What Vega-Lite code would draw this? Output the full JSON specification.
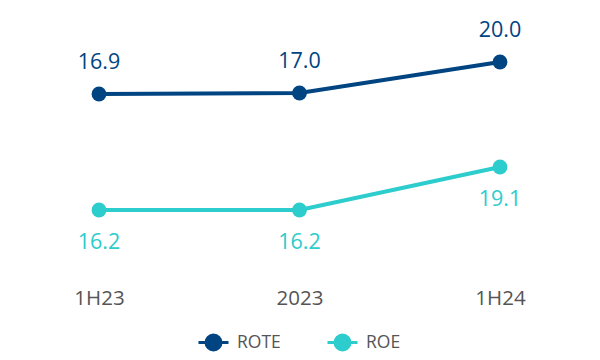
{
  "$schema": "https://vega.github.io/schema/vega-lite/v6.json",
  "width": 600,
  "height": 270,
  "autosize": {"type": "none"},
  "padding": {"left": 0, "top": 0, "right": 0, "bottom": 90},
  "background": "white",
  "config": {"view": {"stroke": null}, "font": "Open Sans"},
  "data": {
    "values": [
      {"period": "1H23", "series": "ROTE", "value": 16.9},
      {"period": "2023", "series": "ROTE", "value": 17.0},
      {"period": "1H24", "series": "ROTE", "value": 20.0},
      {"period": "1H23", "series": "ROE", "value": 16.2},
      {"period": "2023", "series": "ROE", "value": 16.2},
      {"period": "1H24", "series": "ROE", "value": 19.1}
    ]
  },
  "encoding": {
    "x": {
      "field": "period",
      "type": "ordinal",
      "sort": ["1H23", "2023", "1H24"],
      "scale": {"type": "point", "range": [99, 500], "padding": 0},
      "axis": {
        "title": null,
        "domain": false,
        "ticks": false,
        "labelAngle": 0,
        "labelFont": "Open Sans",
        "labelFontWeight": 500,
        "labelFontSize": 20.5,
        "labelColor": "#555555",
        "labelPadding": 18
      }
    },
    "color": {
      "field": "series",
      "type": "nominal",
      "scale": {"domain": ["ROTE", "ROE"], "range": ["#004481", "#2DCCCD"]},
      "legend": {
        "title": null,
        "orient": "none",
        "direction": "horizontal",
        "legendX": 197,
        "legendY": 326,
        "padding": 0,
        "symbolType": "M-1,0L1,0M-0.5,0A0.5,0.5,0,1,0,0.5,0A0.5,0.5,0,1,0,-0.5,0Z",
        "symbolSize": 900,
        "symbolStrokeWidth": 3,
        "labelFont": "Open Sans",
        "labelFontWeight": 500,
        "labelFontSize": 17.5,
        "labelColor": "#555555",
        "labelOffset": 7,
        "columnPadding": 40,
        "encode": {
          "symbols": {
            "update": {
              "fill": {"scale": "color", "field": "value"},
              "stroke": {"scale": "color", "field": "value"},
              "opacity": {"value": 1}
            }
          }
        }
      }
    }
  },
  "layer": [
    {
      "transform": [{"filter": "datum.series === 'ROTE'"}],
      "encoding": {
        "y": {
          "field": "value",
          "type": "quantitative",
          "scale": {"domain": [16.9, 20.0], "range": [94, 62], "zero": false, "nice": false},
          "axis": null
        }
      },
      "layer": [
        {"mark": {"type": "line", "strokeWidth": 4, "point": {"filled": true, "size": 220, "opacity": 1}}},
        {
          "mark": {"type": "text", "dy": -31, "baseline": "middle", "fontSize": 21.5, "fontWeight": 500, "font": "Open Sans", "color": "#004481"},
          "encoding": {"text": {"field": "value", "type": "quantitative", "format": ".1f"}, "color": {"value": "#004481"}}
        }
      ]
    },
    {
      "transform": [{"filter": "datum.series === 'ROE'"}],
      "encoding": {
        "y": {
          "field": "value",
          "type": "quantitative",
          "scale": {"domain": [16.2, 19.1], "range": [210, 167], "zero": false, "nice": false},
          "axis": null
        }
      },
      "layer": [
        {"mark": {"type": "line", "strokeWidth": 4, "point": {"filled": true, "size": 220, "opacity": 1}}},
        {
          "mark": {"type": "text", "dy": 33, "baseline": "middle", "fontSize": 21.5, "fontWeight": 500, "font": "Open Sans", "color": "#2DCCCD"},
          "encoding": {"text": {"field": "value", "type": "quantitative", "format": ".1f"}, "color": {"value": "#2DCCCD"}}
        }
      ]
    }
  ],
  "resolve": {"scale": {"y": "independent"}}
}
